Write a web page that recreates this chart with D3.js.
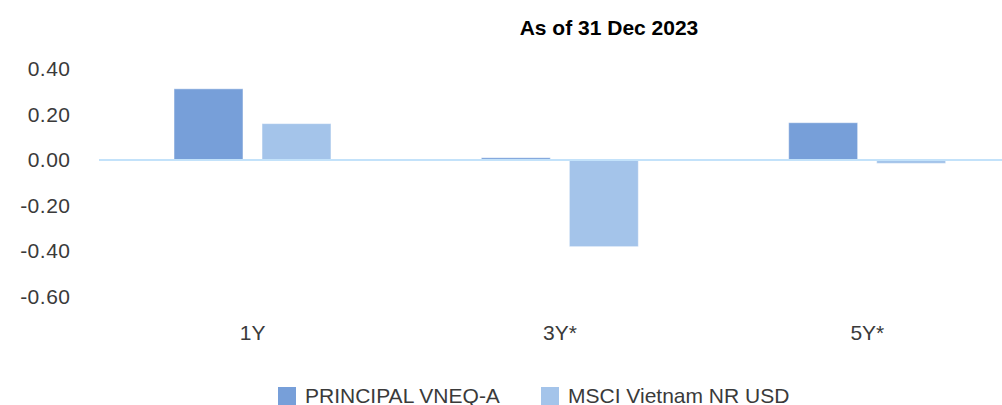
<!DOCTYPE html>
<html lang="en">
<head>
<meta charset="UTF-8">
<title>As of 31 Dec 2023</title>
<style>
  body { margin: 0; background: #fff; }
  svg { display: block; font-family: "Liberation Sans", Arial, sans-serif; }
</style>
</head>
<body>
<svg id="chart" width="1002" height="405"></svg>
<script src="https://d3js.org/d3.v7.min.js"></script>
<script>
var categories = ["1Y", "3Y*", "5Y*"];
var seriesNames = ["PRINCIPAL VNEQ-A", "MSCI Vietnam NR USD"];
var principal = [0.313, 0.010, 0.164];
var msci = [0.160, -0.381, -0.015];
var yTicks = [0.4, 0.2, 0, -0.2, -0.4, -0.6];

var colors = ["#779fd9", "#a4c4ea"];

var svg = d3.select("#chart");

var y = d3.scaleLinear().domain([-0.6, 0.4]).range([296.5, 69]);
var x0 = d3.scaleBand().domain(categories).range([99, 1021]).padding(0);
var x1 = d3.scaleBand().domain(seriesNames).range([75, 232]).paddingInner(0.216);

var rows = categories.map(function (c, i) {
    return { cat: c, values: [principal[i], msci[i]] };
});

// title
svg.append("text")
    .attr("x", 609)
    .attr("y", 35)
    .attr("text-anchor", "middle")
    .style("font-size", "21px")
    .style("font-weight", "bold")
    .style("fill", "#000")
    .text("As of 31 Dec 2023");

// y axis labels (plain hyphen, as in the original)
svg.append("g").selectAll("text")
    .data(yTicks)
    .enter().append("text")
    .attr("x", 70.5)
    .attr("y", function (d) { return y(d); })
    .attr("dy", "0.35em")
    .attr("text-anchor", "end")
    .style("font-size", "21px")
    .style("letter-spacing", "0.5px")
    .style("fill", "#3a3a3a")
    .text(function (d) { return d3.format(".2f")(d).replace("\u2212", "-"); });

// bars
var groups = svg.append("g").selectAll("g")
    .data(rows)
    .enter().append("g")
    .attr("transform", function (d) { return "translate(" + x0(d.cat) + ",0)"; });

groups.selectAll("rect")
    .data(function (d) { return d.values.map(function (v, j) { return { key: seriesNames[j], v: v, j: j }; }); })
    .enter().append("rect")
    .attr("x", function (d) { return x1(d.key); })
    .attr("width", x1.bandwidth())
    .attr("y", function (d) { return d.v >= 0 ? y(d.v) : y(0); })
    .attr("height", function (d) { return Math.abs(y(d.v) - y(0)); })
    .attr("fill", function (d) { return colors[d.j]; })
    .attr("stroke", "#ffffff")
    .attr("stroke-opacity", 0.5)
    .attr("stroke-width", 1);

// zero line
svg.append("line")
    .attr("x1", x0.range()[0])
    .attr("x2", x0.range()[1])
    .attr("y1", y(0))
    .attr("y2", y(0))
    .attr("stroke", "#c3e2fa")
    .attr("stroke-width", 2);

// category labels
svg.append("g").selectAll("text")
    .data(categories)
    .enter().append("text")
    .attr("x", function (d) { return x0(d) + x0.bandwidth() / 2; })
    .attr("y", 340)
    .attr("text-anchor", "middle")
    .style("font-size", "21px")
    .style("fill", "#3a3a3a")
    .text(function (d) { return d; });

// legend
var legendX = [278, 541];
var legend = svg.append("g").selectAll("g")
    .data(seriesNames)
    .enter().append("g")
    .attr("transform", function (d, i) { return "translate(" + legendX[i] + ",387)"; });

legend.append("rect")
    .attr("width", 18)
    .attr("height", 18)
    .attr("fill", function (d, i) { return colors[i]; });

legend.append("text")
    .attr("x", 27)
    .attr("y", 15.5)
    .style("font-size", "21px")
    .style("fill", "#3a3a3a")
    .text(function (d) { return d; });
</script>
</body>
</html>
